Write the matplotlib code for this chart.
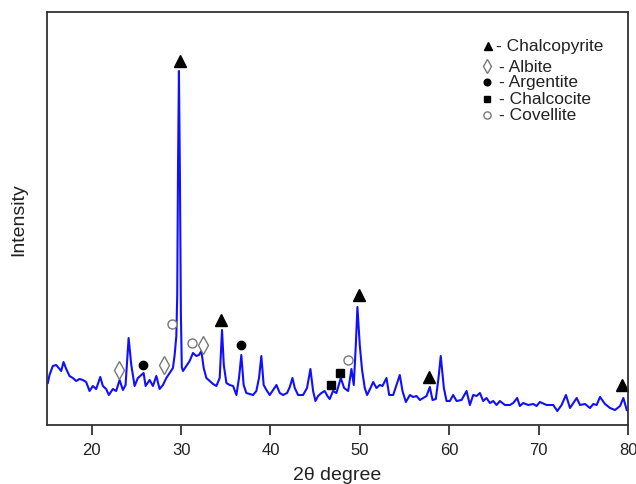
import matplotlib
matplotlib.use("Agg")
import matplotlib.pyplot as plt
import numpy as np

plt.rcParams['font.family'] = ['Liberation Sans', 'DejaVu Sans']

two_theta = [15.09, 15.28, 15.65, 16.03, 16.40, 16.59, 16.85, 17.15, 17.52, 17.89, 18.27, 18.64,
             19.01, 19.38, 19.76, 20.13, 20.50, 20.96, 21.25, 21.62, 21.92, 22.37, 22.74, 23.12,
             23.49, 23.79, 24.13, 24.43, 24.80, 25.17, 25.55, 25.81, 26.03, 26.48, 26.85, 27.23,
             27.60, 27.97, 28.35, 28.72, 29.09, 29.28, 29.47, 29.57, 29.66, 29.76, 29.87, 29.98,
             30.08, 30.21, 30.59, 30.96, 31.33, 31.71, 32.00, 32.27, 32.53, 32.83, 33.20, 33.58,
             33.95, 34.32, 34.50, 34.58, 34.78, 35.07, 35.44, 35.82, 36.19, 36.48, 36.74, 37.00,
             37.30, 37.67, 38.05, 38.42, 38.72, 38.98, 39.24, 39.55, 39.92, 40.29, 40.67, 41.04,
             41.41, 41.86, 42.16, 42.46, 42.72, 43.09, 43.65, 44.09, 44.47, 44.77, 45.03, 45.33,
             45.70, 46.07, 46.37, 46.63, 47.00, 47.38, 47.87, 48.24, 48.69, 49.06, 49.32, 49.55,
             49.73, 49.99, 50.25, 50.55, 50.81, 51.19, 51.49, 51.86, 52.23, 52.53, 52.98, 53.28,
             53.73, 54.10, 54.47, 54.77, 55.15, 55.60, 55.97, 56.34, 56.72, 57.09, 57.46, 57.83,
             58.13, 58.50, 58.80, 59.05, 59.40, 59.70, 60.07, 60.44, 60.82, 61.38, 61.94, 62.31,
             62.68, 63.06, 63.43, 63.80, 64.17, 64.55, 64.92, 65.29, 65.67, 66.23, 66.79, 67.16,
             67.60, 67.90, 68.28, 68.84, 69.40, 69.77, 70.14, 70.89, 71.64, 72.09, 72.57, 73.06,
             73.51, 73.88, 74.26, 74.63, 75.19, 75.75, 76.12, 76.49, 76.87, 77.43, 77.99, 78.55,
             79.11, 79.48, 79.86]
intensity = [42, 50, 59, 60, 56, 54, 63, 56, 49, 47, 44, 46,
             45, 43, 34, 39, 36, 48, 39, 36, 30, 36, 34, 45,
             35, 40, 87, 60, 39, 47, 50, 52, 39, 45, 39, 49,
             36, 40, 47, 52, 57, 70, 89, 130, 260, 354, 250, 110,
             58, 54, 59, 64, 72, 69, 70, 74, 57, 47, 44, 41,
             39, 47, 80, 95, 60, 42, 40, 39, 30, 47, 70, 40,
             32, 31, 30, 34, 47, 69, 40, 35, 30, 35, 40, 32,
             30, 32, 38, 47, 37, 30, 30, 37, 56, 34, 24, 29,
             32, 34, 29, 26, 34, 32, 47, 37, 34, 56, 40, 80,
             118, 80, 55, 37, 30, 37, 43, 37, 40, 39, 47, 30,
             30, 40, 50, 34, 23, 30, 28, 29, 25, 27, 29, 38,
             25, 26, 47, 69, 37, 24, 24, 30, 24, 25, 34, 20,
             30, 29, 32, 24, 27, 22, 24, 20, 24, 20, 20, 22,
             27, 19, 22, 20, 21, 19, 23, 20, 20, 14, 20, 30,
             17, 22, 27, 20, 21, 17, 21, 20, 28, 21, 17, 15,
             19, 27, 15]

chalcopyrite_x = [29.9, 34.45, 49.85, 57.7, 79.3]
chalcopyrite_y = [364, 105, 130, 48, 40]
albite_x = [23.07, 28.1, 32.4]
albite_y = [55, 60, 80]
argentite_x = [25.76, 36.7]
argentite_y = [60, 80]
chalcocite_x = [46.8, 47.8]
chalcocite_y = [40, 52]
covellite_x = [29.0, 31.2, 48.7]
covellite_y = [101, 82, 65]

xticks = [20, 30, 40, 50, 60, 70, 80]

W, H = 636, 485
fig = plt.figure(figsize=(W / 100, H / 100), dpi=100)
L, R, T, B = 47, 628, 13, 426
ax = fig.add_axes([L / W, (H - B) / H, (R - L) / W, (B - T) / H])

ax.plot(two_theta, intensity, color='#1010ff', lw=1.5)

styles = dict(
    chal=dict(marker='^', color='black', ms=8, ls='none'),
    alb=dict(marker='d', mfc='white', mec='#777777', mew=1.0, ms=9, ls='none'),
    arg=dict(marker='o', color='black', ms=6, ls='none'),
    cc=dict(marker='s', color='black', ms=6, ls='none'),
    cov=dict(marker='o', mfc='white', mec='#777777', mew=1.0, ms=6.5, ls='none'),
)
ax.plot(chalcopyrite_x, chalcopyrite_y, **styles['chal'])
ax.plot(albite_x, albite_y, **styles['alb'])
ax.plot(argentite_x, argentite_y, **styles['arg'])
ax.plot(chalcocite_x, chalcocite_y, **styles['cc'])
ax.plot(covellite_x, covellite_y, **styles['cov'])

ax.set_xlim(15, 80)
ax.set_ylim(0, 413)
ax.set_xticks(xticks)
ax.set_yticks([])
ax.tick_params(axis='x', direction='out', length=7, width=1.2, labelsize=12,
               colors='#222222', pad=5)
for s in ax.spines.values():
    s.set_linewidth(1.3)
    s.set_color('#333333')

ax.set_xlabel('2θ degree', fontsize=14, color='#222222', labelpad=7)
ax.set_ylabel('Intensity', fontsize=14, color='#222222', labelpad=14)

legend_entries = [('chal', '- Chalcopyrite', 47, 488, 496),
                  ('alb', '- Albite', 67, 487, 499),
                  ('arg', '- Argentite', 83, 487, 499),
                  ('cc', '- Chalcocite', 100, 487, 499),
                  ('cov', '- Covellite', 116, 487, 499)]
for key, label, py, mx, tx in legend_entries:
    st = dict(styles[key])
    st['ms'] = st['ms'] * 0.8
    ax.plot([(mx - L) / (R - L)], [(B - py) / (B - T)], transform=ax.transAxes,
            clip_on=False, **st)
    ax.text((tx - L) / (R - L), (B - py) / (B - T), label, transform=ax.transAxes,
            fontsize=12.5, color='#222222', va='center', ha='left')

fig.savefig('out.png', dpi=100)
